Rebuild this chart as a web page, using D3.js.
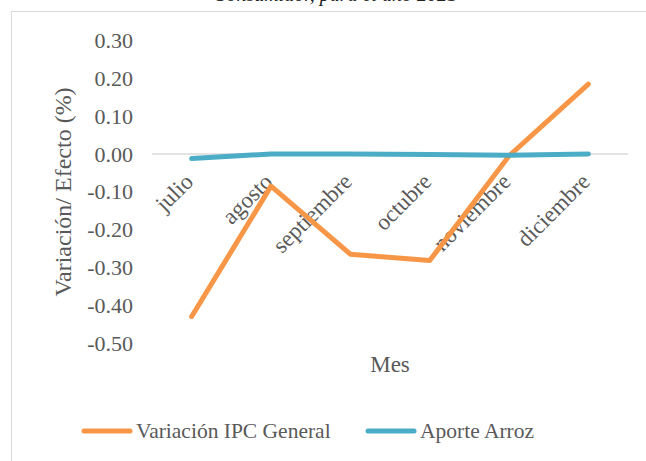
<!DOCTYPE html>
<html>
<head>
<meta charset="utf-8">
<script src="https://cdn.jsdelivr.net/npm/d3@7"></script>
<style>
body { margin:0; background:#fff; }
svg text { font-family: "Liberation Serif", "Tinos", "Times New Roman", "DejaVu Serif", serif !important; }
</style>
</head>
<body>
<svg id="chart" width="646" height="461"></svg>
<script>
// data
var meses = ["julio","agosto","septiembre","octubre","noviembre","diciembre"]
var ipcGeneral = [-0.43, -0.085, -0.265, -0.282, -0.005, 0.185]
var aporteArroz = [-0.012, 0.0, 0.0, -0.001, -0.003, 0.0]
var yTicks = [0.30,0.20,0.10,0.00,-0.10,-0.20,-0.30,-0.40,-0.50]
var seriesNames = ["Variación IPC General","Aporte Arroz"]
var colores = ["#F79646","#4BACC6"]

var svg = d3.select("#chart")
var margins = {left:152, right:18, top:40.6, bottom:118}
var width = 646 - margins.left - margins.right
var height = 461 - margins.top - margins.bottom

// clipped title from the page above
svg.append("text")
    .attr("x", 335).attr("y", 1)
    .attr("text-anchor","middle")
    .attr("font-size","20px")
    .attr("font-style","italic")
    .attr("fill","#222")
    .text("Consumidor, para el año 2021")

// chart area border (runs off right and bottom)
svg.append("rect")
    .attr("x", 11.5).attr("y", 11.5)
    .attr("width", 700).attr("height", 500)
    .attr("fill","none")
    .attr("stroke","#d9d9d9")
    .attr("stroke-width",1)

var xScale = d3.scaleBand()
    .domain(meses)
    .range([margins.left, margins.left+width])
var yScale = d3.scaleLinear()
    .domain([-0.50,0.30])
    .range([margins.top+height, margins.top])

// zero line
svg.append("line")
    .attr("x1", margins.left).attr("x2", margins.left+width)
    .attr("y1", yScale(0)).attr("y2", yScale(0))
    .attr("stroke","#d9d9d9")
    .attr("stroke-width",1.5)

var yAxis = d3.axisLeft(yScale)
    .tickValues(yTicks)
    .tickFormat(function(d){ return d.toFixed(2) })
    .tickSize(0)
    .tickPadding(0)
var gy = svg.append("g")
    .attr("transform","translate(133,0)")
    .call(yAxis)
gy.select(".domain").remove()
gy.selectAll("text")
    .attr("font-size","22px")
    .attr("fill","#595959")

// category labels, rotated
svg.append("g").selectAll("text")
    .data(meses)
    .enter()
    .append("text")
    .attr("text-anchor","end")
    .attr("font-size","23px")
    .attr("fill","#595959")
    .attr("transform", function(d){
        var cx = xScale(d) + xScale.bandwidth()/2
        return "translate("+(cx+3)+",183) rotate(-45)"
    })
    .text(function(d){ return d })

// axis titles
svg.append("text")
    .attr("transform","translate(71,192) rotate(-90)")
    .attr("text-anchor","middle")
    .attr("font-size","24px")
    .attr("fill","#595959")
    .text("Variación/ Efecto (%)")
svg.append("text")
    .attr("x", 390).attr("y", 372)
    .attr("text-anchor","middle")
    .attr("font-size","23px")
    .attr("fill","#595959")
    .text("Mes")

var line = d3.line()
    .x(function(d,i){ return xScale(meses[i]) + xScale.bandwidth()/2 })
    .y(function(d){ return yScale(d) })

var allSeries = [ipcGeneral, aporteArroz]
svg.append("g").selectAll("path")
    .data(allSeries)
    .enter()
    .append("path")
    .attr("d", line)
    .attr("fill","none")
    .attr("stroke", function(d,i){ return colores[i] })
    .attr("stroke-width",5)
    .attr("stroke-linecap","round")
    .attr("stroke-linejoin","round")

// legend
var legX = [84, 368]
var lg = svg.append("g").selectAll("g")
    .data(seriesNames)
    .enter()
    .append("g")
    .attr("transform", function(d,i){ return "translate("+legX[i]+",431)" })
lg.append("line")
    .attr("x1",0).attr("x2",46)
    .attr("stroke", function(d,i){ return colores[i] })
    .attr("stroke-width",5)
    .attr("stroke-linecap","round")
lg.append("text")
    .attr("x",52).attr("y",7)
    .attr("font-size","21.5px")
    .attr("fill","#595959")
    .text(function(d){ return d })
</script>
</body>
</html>
